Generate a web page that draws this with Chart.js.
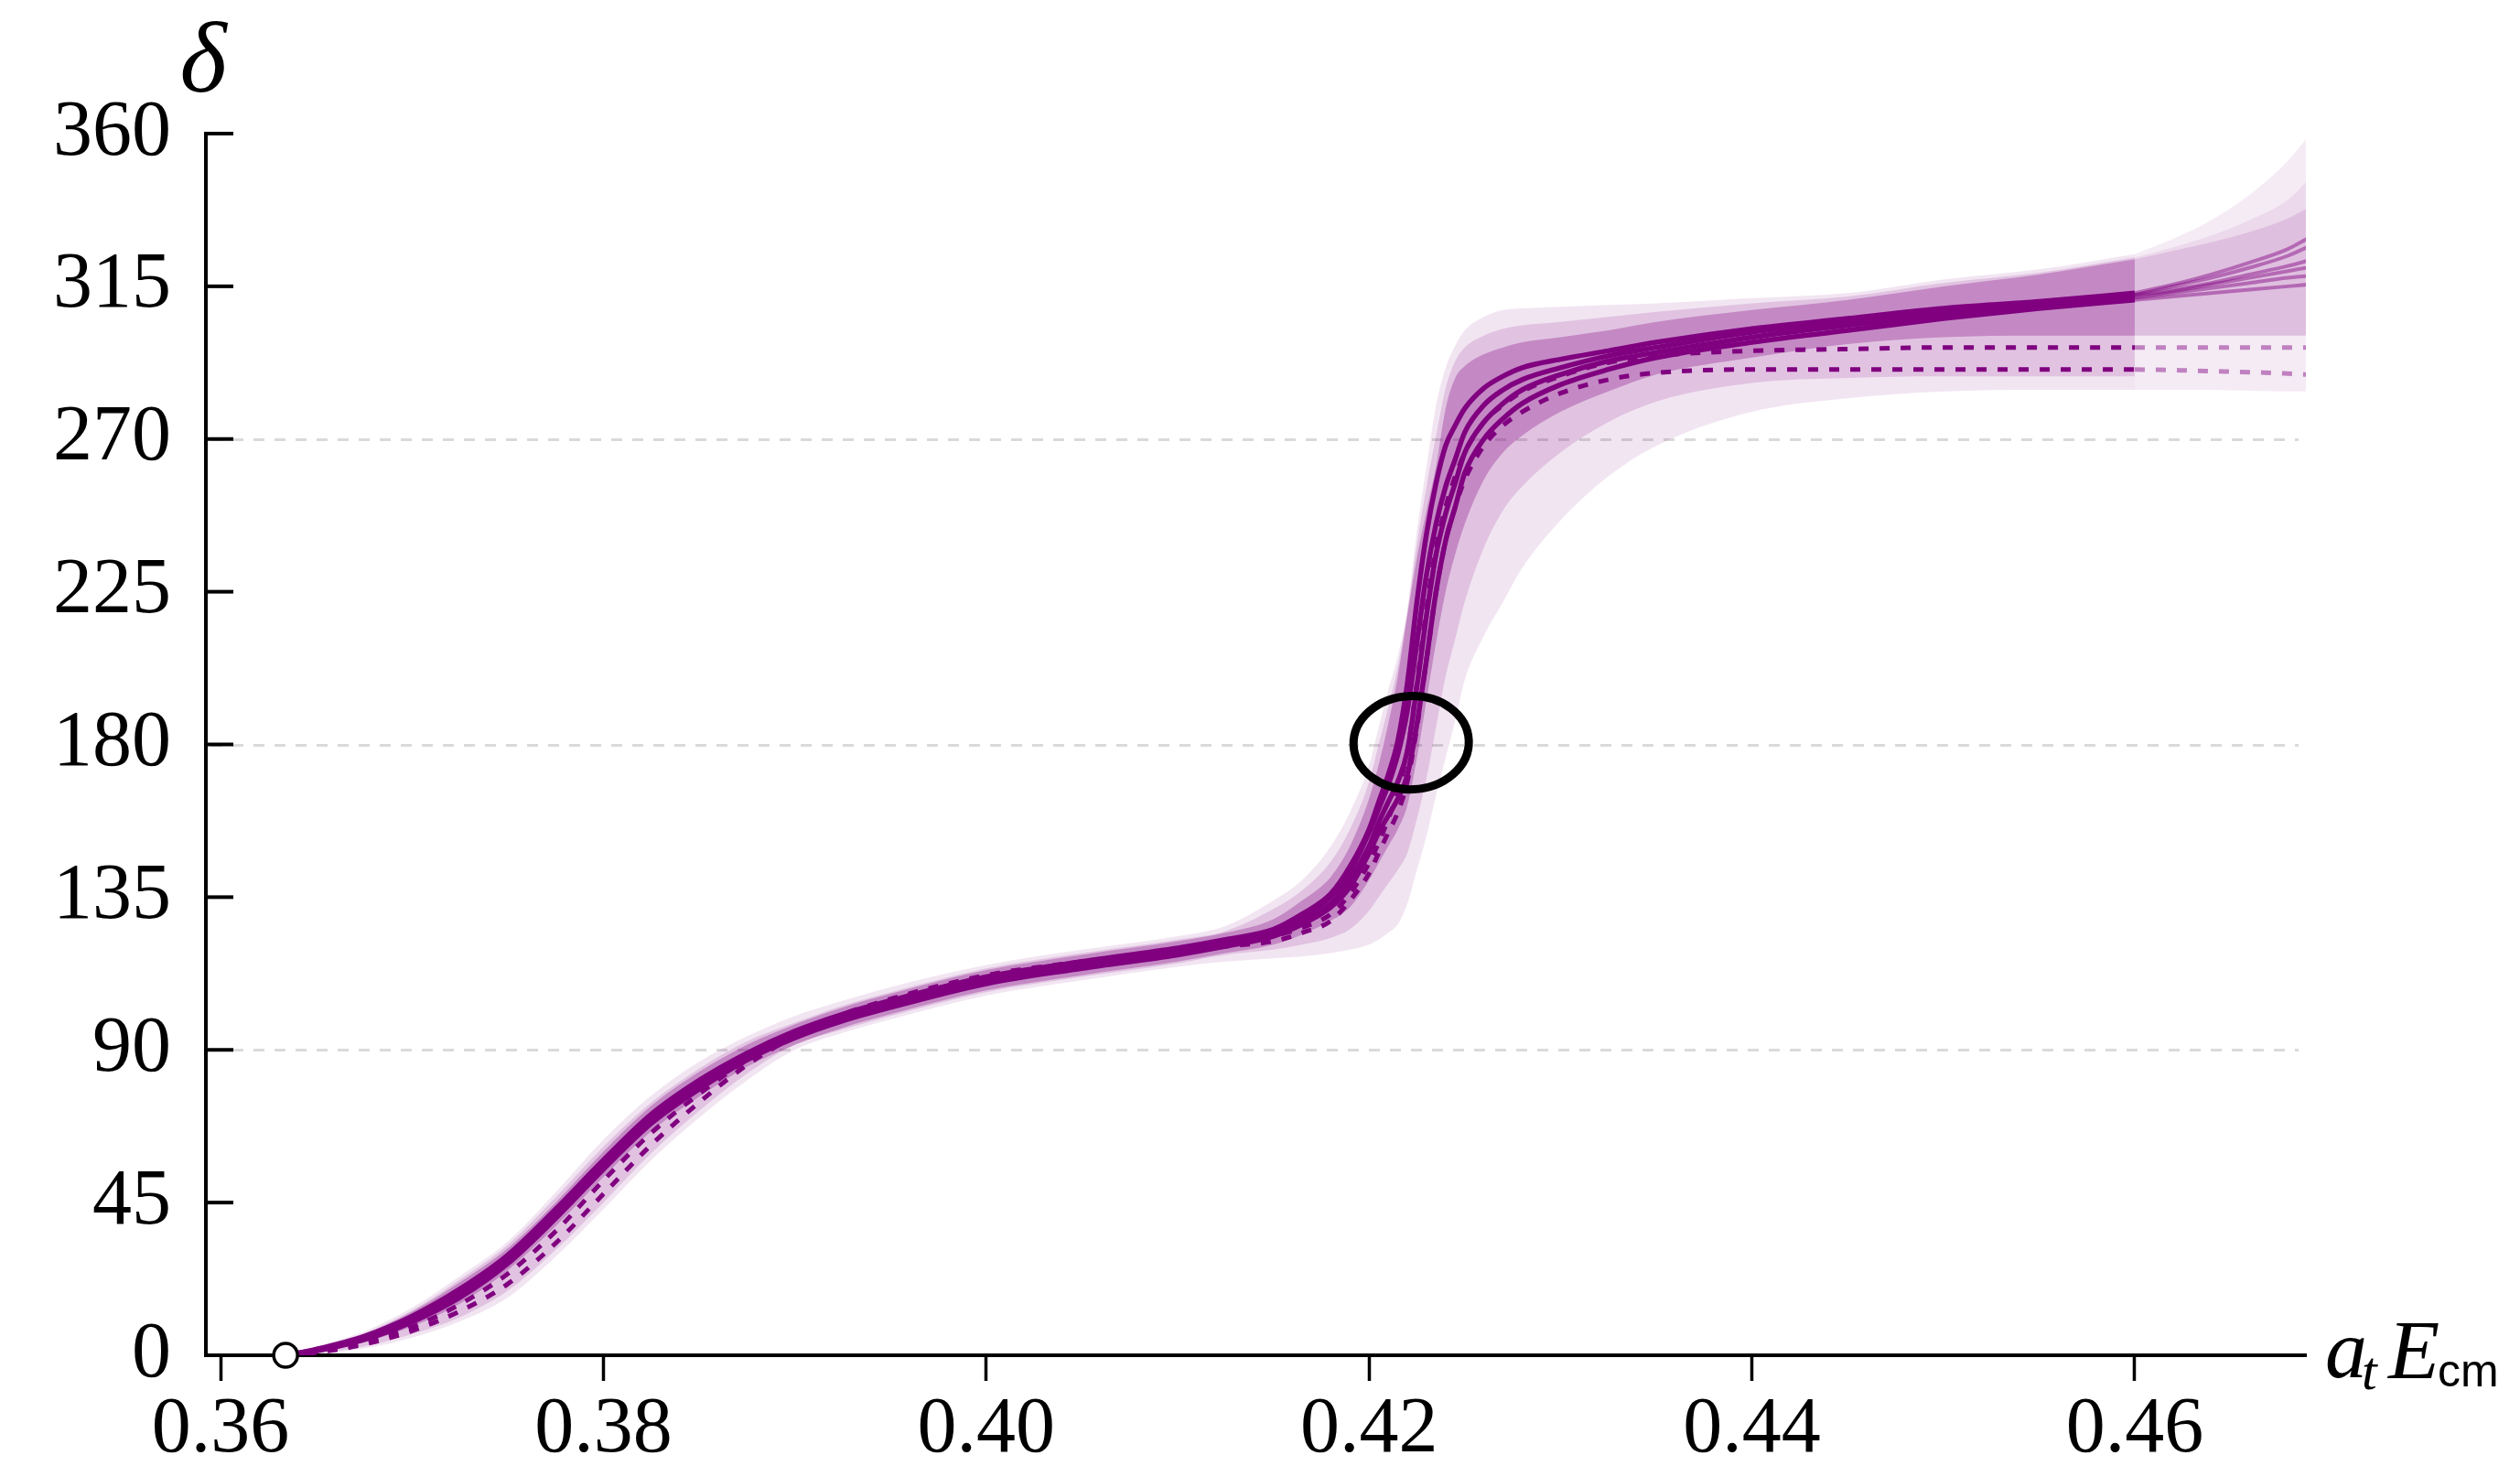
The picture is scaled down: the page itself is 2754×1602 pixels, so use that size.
<!DOCTYPE html>
<html><head><meta charset="utf-8">
<script src="https://cdn.jsdelivr.net/npm/chart.js@4.4.1/dist/chart.umd.min.js"></script>
<style>html,body{margin:0;padding:0;background:#fff;}#wrap{width:2754px;height:1602px;}</style>
</head><body><div id="wrap"><canvas id="c" width="2754" height="1602"></canvas></div>
<script>
// ---------- data ----------
const X = [0.3634,0.365,0.3675,0.37,0.3725,0.375,0.3775,0.38,0.3825,0.385,0.3875,0.39,0.3925,0.395,0.40,0.405,0.41,0.4125,0.415,0.4165,0.418,0.419,0.42,0.4205,0.421,0.4215,0.422,0.4225,0.423,0.4235,0.424,0.4245,0.425,0.426,0.427,0.428,0.43,0.4325,0.435,0.44,0.445,0.45,0.455,0.46];

const S1 = [0,1.8,5.6,11.5,19.5,29.5,43,57.5,71,81,89,95.5,100.5,104.5,111.5,116,120,122.5,125.5,130,136,144,155,163,171,181,198,222,242,257,268,274,279,285,288.5,291,293.5,296,298.5,302.5,305.5,308.5,310.5,313];
const S2 = [0,1.6,5.2,11,18.7,28.7,42.2,56.7,70.2,80.3,88.5,95,100,104,111,115.5,119.5,122,125,129,135,142.5,154,161,168,177,190,210,230,245,256,264,272,280,284.5,287.5,291,294.5,297,301.5,304.5,307.5,310,312.5];
const S3 = [0,1.4,4.9,10.3,17.7,27.7,41.2,55.7,69.2,79.2,87.5,94,99,103,110,114.5,118.5,121,124,128,133,140,150,157,163,169,178,197,218,236,248,257,266,275,280.5,284.5,289,293,295.5,300,303.5,306.5,309.5,312];
const S4 = [0,1.3,4.6,9.8,17,27,40.3,54.8,68.3,78.4,87,93.5,98.5,102.5,109.5,114,118,120.5,123.5,127,132,138,148,154,159,164,171,186,205,225,240,250,260,270,276,280.5,286,290.5,294,298.5,302,305.5,308.5,311];
const D1 = [0,1.0,3.8,8.3,15,24,36.5,51.5,65.5,77,87,95,100.5,105,112,116,119.5,121.5,123.5,126,130,136,145,151,158,166,178,198,220,238,250,259,266,275,280,284,288.5,292.5,294.5,296,296.5,297,297,297];
const D2 = [0,0.8,3.2,7.2,13,21,33,47.5,62,74.5,85.5,94,100,104.5,111.5,115.5,118.5,120.5,122,124.5,128,134,142,148,154,160,169,185,205,225,240,250,258,268,274,278,283.5,287.5,289.5,290.5,290.5,290.5,290.5,290.5];

const A_HI = [0,2.1,6.2,12.8,21.5,31.5,45,60,73.5,83.5,91.5,97.5,102.5,106.5,113.5,118,122,124.5,128.5,134,141,150,164,174,186,200,218,235,249,262,279,288,291.5,295,297,298.5,300,302,304.5,308,311,315,318.5,323];
const A_LO = [0,1.0,3.8,8.5,15.2,25,38,52.5,66,76.2,85,91.5,96.5,100.5,107.5,112,116,118.5,121,124,128,132,140,145,150,155,162,176,193,210,225,236,245,258,266,271,278,284,289,294,298,300,300.5,300.5];
const B_HI = [0,2.3,6.5,13.2,22.3,32.5,46.5,61.5,74.5,84.5,92.5,98,103,107,114,118.5,122.5,125,131.5,137,145.5,155,169,180,191,203,219,239,256,271,285,293,297,300.5,302.5,303.5,304.5,306,307.5,310,312,316,319,323.5];
const B_LO = [0,0.5,2.6,6.2,11.2,19,31,45,59.5,72,83,91.5,96,100,107,111.5,115.5,118,119.5,121,123,125.5,131,135,139,143,148,158,170,185,200,211,222,238,249,256,266,275,281,286.5,288,288.5,288.5,288.5];
const C_HI = [0,2.6,7,14,23.3,33.5,48,63.5,76.5,86.5,94,100,104.5,108.5,115,119.5,123.5,126.5,134,140,150,160,174,185,196,206,220,243,262,280,291,297.5,302,306,308,308.5,309,309.5,310,311.5,313,317,320,324.5];
const C_LO = [0,0.3,2.0,5.2,10,17,29,43,57.5,70,81,90,95,99,106,110.5,114.5,116,117,117.5,118.5,119.5,121,122.5,124.5,127,133,143,153,165,176,187,199,212,222,232,246,259,268,278,282,284,284.5,284.5];

// extrapolation beyond the fitted range
const XE = [0.46,0.462,0.464,0.466,0.468,0.469];
const E1 = [313,315.5,318.5,322,326,329];
const E2 = [312.5,315,317.5,320.5,324,326.5];
const E3 = [312.5,314,316,318.5,321,322.5];
const E4 = [312,313.5,315.5,317.5,319.5,320.5];
const E5 = [311.5,313,314.5,316,317.5,318];
const E6 = [311,312,313,314,315,315.5];
const ED1 = [297,297,297,297,297,297];
const ED2 = [290.5,290.3,290,289.7,289.3,289];
const F1_HI = [324.5,329,334.5,342,352,358.7];
const F1_LO = [284.5,284.5,284.5,284.2,284,284];
const F2_HI = [323.5,326.5,330,334.5,340.5,346];
const F3_HI = [323,325.5,328,331,335,338];
const F23_LO = [300.5,300.5,300.5,300.5,300.5,300.5];

const X_TICKS = [0.36,0.38,0.40,0.42,0.44,0.46];
const X_TICK_LABELS = ['0.36','0.38','0.40','0.42','0.44','0.46'];
const Y_TICKS = [0,45,90,135,180,225,270,315,360];
const Y_TICK_LABELS = ['0','45','90','135','180','225','270','315','360'];
const Y_GRID = [90,180,270];
const THRESHOLD = [{x:0.3634, y:0}];
const POLE = {x:0.4222, y:180.5};

// ---------- chart ----------
const PURPLE = 'rgb(128,0,128)';
const pc = a => 'rgba(128,0,128,' + a + ')';
const zip = (xs, ys) => xs.map((x, i) => ({x, y: ys[i]}));
const datasets = [];
function addBand(xs, hi, lo, color, order) {
  const loIdx = datasets.length;
  datasets.push({data: zip(xs, lo), borderColor: 'rgba(0,0,0,0)', borderWidth: 0, backgroundColor: 'rgba(0,0,0,0)',
    pointRadius: 0, fill: false, order, cubicInterpolationMode: 'monotone'});
  datasets.push({data: zip(xs, hi), borderColor: 'rgba(0,0,0,0)', borderWidth: 0, backgroundColor: color,
    pointRadius: 0, fill: {target: loIdx}, order, cubicInterpolationMode: 'monotone'});
}
function addLine(xs, ys, color, width, dash, order) {
  datasets.push({data: zip(xs, ys), borderColor: color, borderWidth: width, borderDash: dash || [],
    pointRadius: 0, fill: false, order, cubicInterpolationMode: 'monotone', borderCapStyle: 'butt'});
}
addBand(X, C_HI, C_LO, pc(0.10), 20);
addBand(X, B_HI, B_LO, pc(0.15), 19);
addBand(X, A_HI, A_LO, pc(0.30), 18);
addBand(XE, F1_HI, F1_LO, pc(0.08), 17);
addBand(XE, F2_HI, F23_LO, pc(0.08), 16);
addBand(XE, F3_HI, F23_LO, pc(0.12), 15);
[E1,E2,E3,E4,E5,E6].forEach(e => addLine(XE, e, pc(0.45), 4, [], 5));
addLine(XE, ED1, pc(0.45), 5, [11,12], 5);
addLine(XE, ED2, pc(0.45), 5, [11,12], 5);
addLine(X, D1, PURPLE, 5, [11,12], 3);
addLine(X, D2, PURPLE, 5, [11,12], 3);
[S1,S2,S3,S4].forEach(s => addLine(X, s, PURPLE, 5.5, [], 2));
datasets.push({data: THRESHOLD, showLine: false, pointRadius: 13, pointHoverRadius: 13, pointBorderWidth: 3.5,
  pointBackgroundColor: '#fff', pointBorderColor: '#000', clip: false, order: 0});

const decor = {
  id: 'decor',
  beforeDatasetsDraw(chart) {
    const {ctx, chartArea} = chart; const ys = chart.scales.y;
    ctx.save();
    ctx.strokeStyle = 'rgb(218,218,218)'; ctx.lineWidth = 3; ctx.setLineDash([12, 11]);
    Y_GRID.forEach(v => {
      const py = Math.round(ys.getPixelForValue(v)) + 0.5;
      ctx.beginPath(); ctx.moveTo(chartArea.left + 6, py); ctx.lineTo(chartArea.right - 8, py); ctx.stroke();
    });
    ctx.restore();
  },
  afterDatasetsDraw(chart) {
    const {ctx} = chart; const xs = chart.scales.x, ys = chart.scales.y;
    ctx.save();
    ctx.strokeStyle = '#000'; ctx.lineWidth = 9;
    ctx.beginPath();
    ctx.ellipse(xs.getPixelForValue(POLE.x), ys.getPixelForValue(POLE.y), 63, 51, -0.04, 0, Math.PI * 2);
    ctx.stroke();
    ctx.restore();
  },
  afterDraw(chart) {
    const {ctx, chartArea} = chart; const ys = chart.scales.y;
    ctx.save();
    ctx.strokeStyle = '#000'; ctx.lineWidth = 4;
    Y_TICKS.forEach(v => {
      const py = ys.getPixelForValue(v);
      ctx.beginPath(); ctx.moveTo(chartArea.left, py); ctx.lineTo(chartArea.left + 30, py); ctx.stroke();
    });
    ctx.fillStyle = '#000';
    ctx.textAlign = 'center'; ctx.textBaseline = 'alphabetic';
    ctx.font = 'italic 110px "Liberation Serif"';
    ctx.fillText('δ', 222, 100);
    ctx.textAlign = 'left';
    ctx.font = 'italic 92px "Liberation Serif"';
    ctx.fillText('a', 2541, 1505);
    ctx.font = 'italic 60px "Liberation Serif"';
    ctx.fillText('t', 2581, 1518);
    ctx.font = 'italic 92px "Liberation Serif"';
    ctx.fillText('E', 2610, 1506);
    ctx.font = '50px "Liberation Sans"';
    ctx.fillText('cm', 2664, 1515);
    ctx.restore();
  }
};

Chart.defaults.font.family = '"Liberation Serif"';
Chart.defaults.color = '#000';
new Chart(document.getElementById('c'), {
  type: 'line',
  data: {datasets},
  options: {
    responsive: false, animation: false, devicePixelRatio: 1,
    events: [],
    layout: {padding: {left: 0, right: 234, top: 146, bottom: 0}},
    plugins: {legend: {display: false}, tooltip: {enabled: false}},
    scales: {
      x: {
        type: 'linear', min: 0.359235, max: 0.46894,
        afterBuildTicks: s => { s.ticks = X_TICKS.map(v => ({value: v})); },
        afterFit: s => { s.height = 121; },
        grid: {display: true, drawOnChartArea: false, drawTicks: true, tickLength: 28, tickWidth: 3.5, tickColor: '#000'},
        border: {display: true, color: '#000', width: 4},
        ticks: {autoSkip: false, maxRotation: 0, padding: 3, font: {size: 86}, color: '#000',
          callback: (v, i) => X_TICK_LABELS[i]}
      },
      y: {
        type: 'linear', min: 0, max: 360,
        afterBuildTicks: s => { s.ticks = Y_TICKS.map(v => ({value: v})); },
        afterFit: s => { s.width = 225; },
        grid: {display: false, drawTicks: false},
        border: {display: true, color: '#000', width: 4},
        ticks: {padding: 38, font: {size: 86}, color: '#000', callback: (v, i) => Y_TICK_LABELS[i]}
      }
    }
  },
  plugins: [decor]
});
</script></body></html>
